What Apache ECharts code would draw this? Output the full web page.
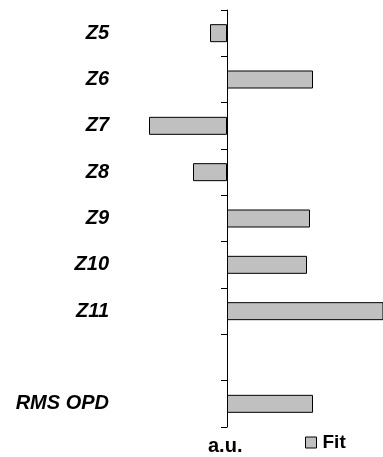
<!DOCTYPE html>
<html><head><meta charset="utf-8">
<script src="https://cdn.jsdelivr.net/npm/echarts@6/dist/echarts.min.js"></script>
<style>html,body{margin:0;padding:0;background:#fff}#c{width:383px;height:457px}</style>
</head><body><div id="c"></div>
<script>
const categories = ['Z5','Z6','Z7','Z8','Z9','Z10','Z11','','RMS OPD'];
const fitValues = [-17, 86, -78, -34, 83, 80, 160, null, 86];
const seriesName = 'Fit';
const axisName = 'a.u.';

const chart = echarts.init(document.getElementById('c'), null, {renderer:'canvas'});
const font = '"Liberation Sans", Arial, sans-serif';
chart.setOption({
  animation: false,
  grid: {left: 127, right: 0, top: 10, bottom: 30, containLabel: false, outerBoundsMode: 'none'},
  title: {text: axisName, left: 203, top: 431, textStyle: {fontFamily: font, fontWeight: 'bold', fontSize: 20, color: '#000'}},
  legend: {
    data: [seriesName], left: 300, top: 428, icon: 'rect', itemWidth: 11, itemHeight: 11, itemGap: 5,
    itemStyle: {borderColor: '#000', borderWidth: 1},
    textStyle: {fontFamily: font, fontWeight: 'bold', fontSize: 19, color: '#000', padding: [0,0,0,1]}
  },
  xAxis: {
    type: 'value', min: -100, max: 156,
    axisLine: {show: false}, axisTick: {show: false}, axisLabel: {show: false}, splitLine: {show: false}
  },
  yAxis: {
    type: 'category', data: categories, inverse: true,
    axisLine: {show: true, onZero: true, lineStyle: {color: '#000', width: 1}},
    axisTick: {show: true, length: 6, lineStyle: {color: '#000'}},
    axisLabel: {margin: 18, fontFamily: font, fontWeight: 'bold', fontStyle: 'italic', fontSize: 20, color: '#000'}
  },
  series: [{
    name: seriesName, type: 'bar', data: fitValues, barWidth: 18,
    itemStyle: {color: '#c0c0c0', borderColor: '#000', borderWidth: 1}
  }]
});
</script></body></html>
